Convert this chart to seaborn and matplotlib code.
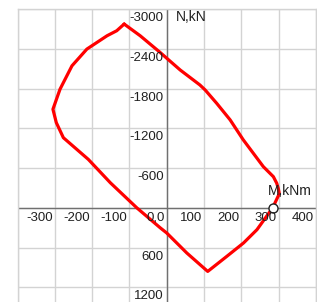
import numpy as np
import pandas as pd
import matplotlib
matplotlib.use("Agg")
import matplotlib.pyplot as plt
import matplotlib.transforms as mtransforms
import seaborn as sns

# interaction curve M-N
m_vals = [-114, -71, -18, 36, 89, 103, 134, 170, 205, 259, 286, 295, 299, 302,
          284, 242, 206, 161, 110, 54, 0, -17, -80, -151, -210, -277, -296,
          -305, -286, -254, -214, -160, -134, -114]
n_vals = [-2777, -2600, -2350, -2084, -1857, -1782, -1580, -1330, -1030, -623, -471, -372, -296, -215,
          0, 329, 530, 733, 960, 682, 379, 303, 0, -379, -732, -1060, -1288,
          -1490, -1793, -2146, -2399, -2600, -2676, -2777]

point_m = [284]
point_n = [0]

x_ticks = [-300, -200, -100, 0, 100, 200, 300, 400]
x_tick_labels = ['-300', '-200', '-100', '0,0', '100', '200', '300', '400']
y_ticks = [-3000, -2400, -1800, -1200, -600, 600, 1200]
y_tick_labels = ['-3000', '-2400', '-1800', '-1200', '-600', '600', '1200']

sns.set_style("white")
plt.rcParams['font.family'] = ['Liberation Sans', 'DejaVu Sans']

df = pd.DataFrame({'M': m_vals, 'N': n_vals})

fig = plt.figure(figsize=(3.17, 3.02), dpi=100)
ax = fig.add_axes([17.5 / 317, 0.0, 298.4 / 317, (302 - 9.3) / 302])

# grid
for xv in range(-400, 401, 100):
    ax.axvline(xv, color='#d3d3d3', lw=1.0, zorder=0)
for yv in range(-3000, 1201, 600):
    ax.axhline(yv, color='#d3d3d3', lw=1.0, zorder=0)
ax.axvline(0, color='#707070', lw=1.0, zorder=1)
ax.axhline(0, color='#707070', lw=1.0, zorder=1)

# estimator=None -> points drawn in given order, no averaging
sns.lineplot(data=df, x='M', y='N', sort=False, estimator=None, color='#ff0000',
             lw=2.3, ax=ax, zorder=3)
ax.plot(point_m, point_n, 'o', ms=6.5, mfc='white', mec='#202020', mew=1.0, zorder=4)

ax.set_xlim(-400, 400)
ax.set_ylim(1422, -3000)
ax.set_xticks([])
ax.set_yticks([])
ax.set_xlabel('')
ax.set_ylabel('')
for s in ['top', 'left', 'right']:
    ax.spines[s].set_color('#d3d3d3')
    ax.spines[s].set_linewidth(1.0)
ax.spines['bottom'].set_visible(False)

tx = mtransforms.offset_copy(ax.transData, fig=fig, x=-2, y=-4, units='dots')
for v, lab in zip(x_ticks, x_tick_labels):
    ax.text(v, 0, lab, transform=tx, ha='right', va='top', fontsize=9.5, color='#202020', zorder=5)
ty = mtransforms.offset_copy(ax.transData, fig=fig, x=-3, y=-3, units='dots')
for v, lab in zip(y_ticks, y_tick_labels):
    ax.text(0, v, lab, transform=ty, ha='right', va='top', fontsize=9.5, color='#202020', zorder=5)

ax.text(25, -2985, 'N,kN', ha='left', va='top', fontsize=10, color='#202020', zorder=5)
ax.text(390, -195, 'M,kNm', ha='right', va='baseline', fontsize=10, color='#202020', zorder=5)

fig.savefig('out.png', dpi=100)
